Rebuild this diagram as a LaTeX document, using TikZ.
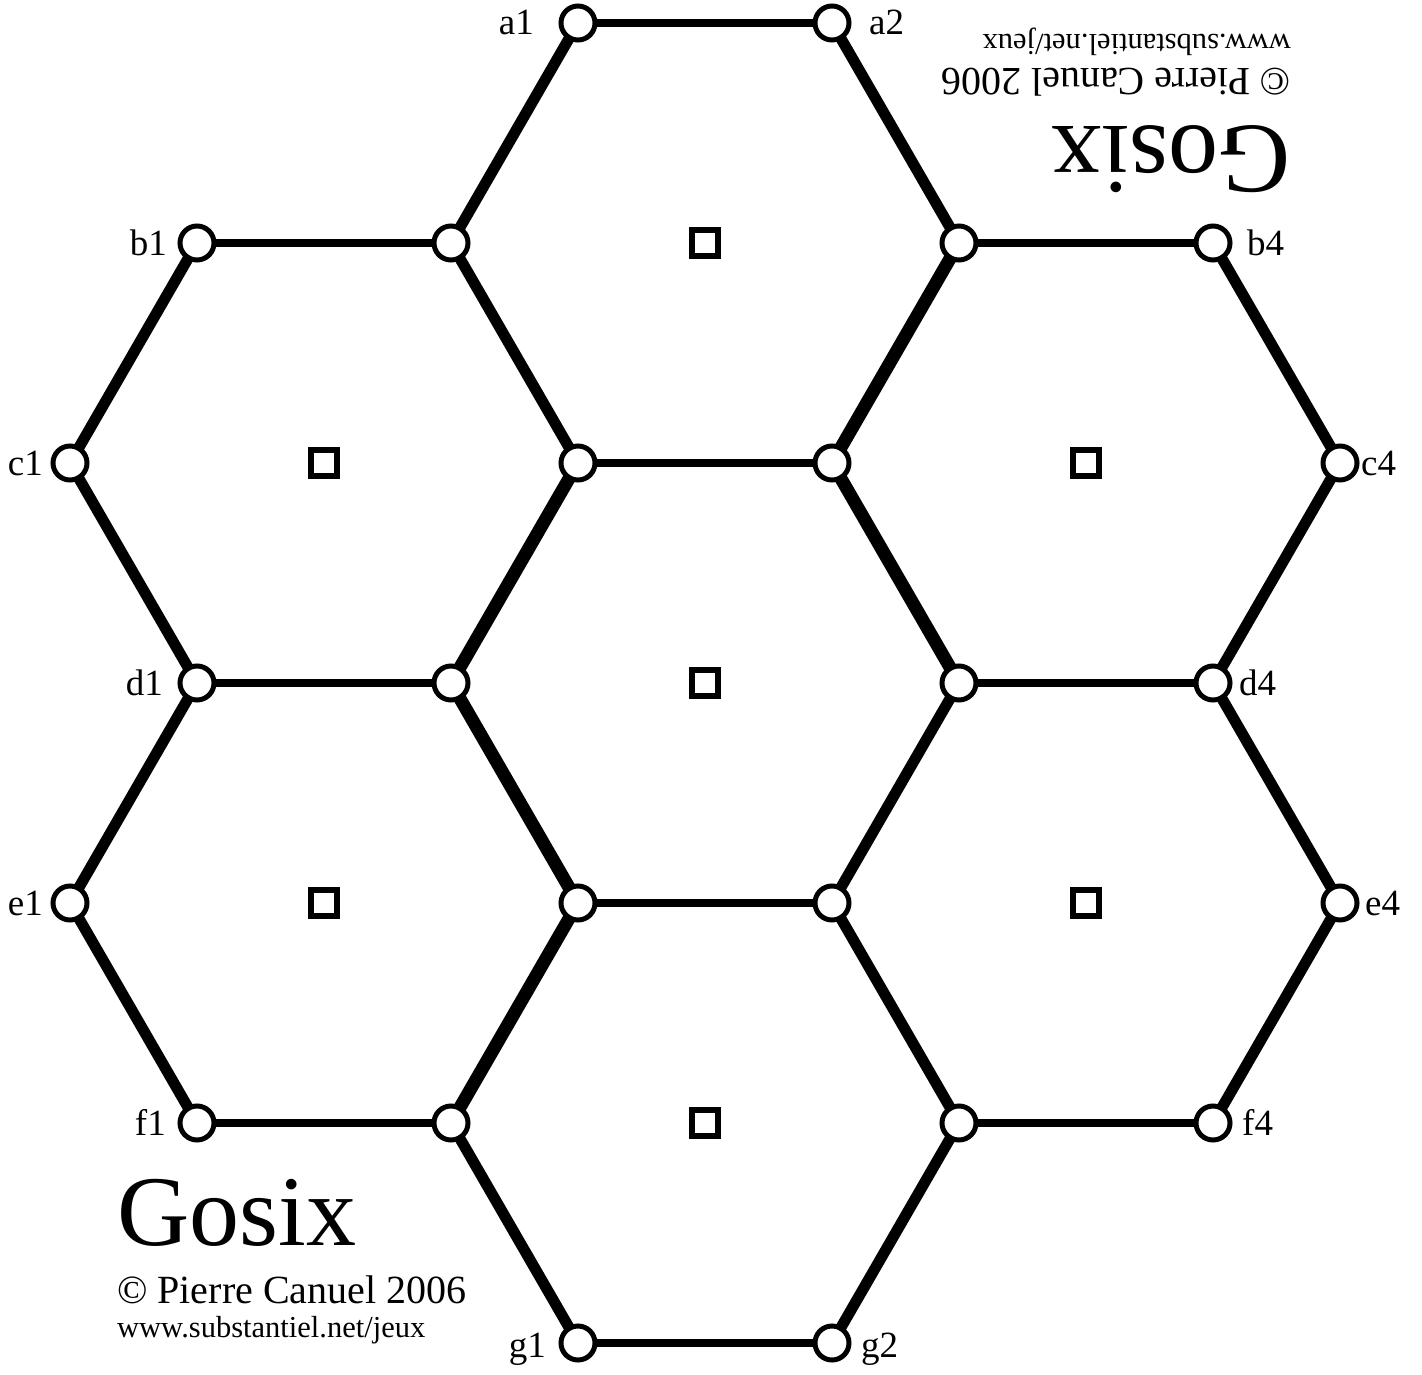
\documentclass[tikz,border=0pt]{standalone}
\usepackage{fontspec}
\setmainfont{Liberation Serif}
\usetikzlibrary{backgrounds}
\begin{document}
\begin{tikzpicture}[x=1pt,y=-1pt,
  vtx/.style={circle,draw,fill=white,line width=5pt,minimum size=34pt,inner sep=0pt},
  cell/.style={rectangle,draw,fill=white,line width=6pt,minimum size=26pt,inner sep=0pt},
  hedge/.style={line width=8pt},
  dedge/.style={line width=11pt},
  tedge/.style={line width=13pt},
  lab/.style={font=\fontsize{37}{42}\selectfont,inner sep=0pt},
  titletext/.style={font=\fontsize{100}{110}\selectfont,inner sep=0pt,anchor=base west},
  copytext/.style={font=\fontsize{40}{46}\selectfont,inner sep=0pt,anchor=base west},
  webtext/.style={font=\fontsize{30.5}{36}\selectfont,inner sep=0pt,anchor=base west}]
\useasboundingbox (0,0) rectangle (1422,1375);
% vertices
\node[vtx] (a1) at (578,23) {};
\node[vtx] (a2) at (832,23) {};
\node[vtx] (b1) at (197,243) {};
\node[vtx] (b2) at (451,243) {};
\node[vtx] (b3) at (959,243) {};
\node[vtx] (b4) at (1213,243) {};
\node[vtx] (c1) at (70,463) {};
\node[vtx] (c2) at (578,463) {};
\node[vtx] (c3) at (832,463) {};
\node[vtx] (c4) at (1340,463) {};
\node[vtx] (d1) at (197,683) {};
\node[vtx] (d2) at (451,683) {};
\node[vtx] (d3) at (959,683) {};
\node[vtx] (d4) at (1213,683) {};
\node[vtx] (e1) at (70,903) {};
\node[vtx] (e2) at (578,903) {};
\node[vtx] (e3) at (832,903) {};
\node[vtx] (e4) at (1340,903) {};
\node[vtx] (f1) at (197,1123) {};
\node[vtx] (f2) at (451,1123) {};
\node[vtx] (f3) at (959,1123) {};
\node[vtx] (f4) at (1213,1123) {};
\node[vtx] (g1) at (578,1343) {};
\node[vtx] (g2) at (832,1343) {};
% cell markers
\node[cell] (h1) at (705,243) {};
\node[cell] (h2) at (324,463) {};
\node[cell] (h3) at (1086,463) {};
\node[cell] (h4) at (705,683) {};
\node[cell] (h5) at (324,903) {};
\node[cell] (h6) at (1086,903) {};
\node[cell] (h7) at (705,1123) {};
% edges
\begin{scope}[on background layer]
\foreach \u/\v in {a1/a2,b1/b2,b3/b4,c2/c3,d1/d2,d3/d4,e2/e3,f1/f2,f3/f4,g1/g2}
  \draw[hedge] (\u.center) -- (\v.center);
\foreach \u/\v in {a1/b2,a2/b3,b1/c1,b2/c2,b4/c4,c1/d1,c4/d4,d1/e1,d3/e3,d4/e4,e1/f1,e3/f3,e4/f4,f2/g1,f3/g2}
  \draw[dedge] (\u.center) -- (\v.center);
\foreach \u/\v in {b3/c3,c2/d2,c3/d3,d2/e2,e2/f2}
  \draw[tedge] (\u.center) -- (\v.center);
\end{scope}
% labels
\node[lab,anchor=base east] (la1) at ([xshift=-44pt,yshift=-12pt]a1.center) {a1};
\node[lab,anchor=base west] (la2) at ([xshift=37pt,yshift=-12pt]a2.center) {a2};
\node[lab,anchor=base east] (lb1) at ([xshift=-30pt,yshift=-12pt]b1.center) {b1};
\node[lab,anchor=base west] (lb4) at ([xshift=34pt,yshift=-12pt]b4.center) {b4};
\node[lab,anchor=base east] (lc1) at ([xshift=-27pt,yshift=-12pt]c1.center) {c1};
\node[lab,anchor=base west] (lc4) at ([xshift=21pt,yshift=-12pt]c4.center) {c4};
\node[lab,anchor=base east] (ld1) at ([xshift=-34pt,yshift=-12pt]d1.center) {d1};
\node[lab,anchor=base west] (ld4) at ([xshift=26pt,yshift=-12pt]d4.center) {d4};
\node[lab,anchor=base east] (le1) at ([xshift=-27pt,yshift=-12pt]e1.center) {e1};
\node[lab,anchor=base west] (le4) at ([xshift=25pt,yshift=-12pt]e4.center) {e4};
\node[lab,anchor=base east] (lf1) at ([xshift=-31pt,yshift=-12pt]f1.center) {f1};
\node[lab,anchor=base west] (lf4) at ([xshift=29pt,yshift=-12pt]f4.center) {f4};
\node[lab,anchor=base east] (lg1) at ([xshift=-32pt,yshift=-14pt]g1.center) {g1};
\node[lab,anchor=base west] (lg2) at ([xshift=29pt,yshift=-14pt]g2.center) {g2};
% title blocks
\node[titletext] (t1) at (117,1245) {Gosix};
\node[copytext] (c1t) at (117,1303) {© Pierre Canuel 2006};
\node[webtext] (w1) at (117,1337) {www.substantiel.net/jeux};
\begin{scope}[rotate around={180:(704,686)}]
\node[titletext,transform shape] (t2) at (117,1245) {Gosix};
\node[copytext,transform shape] (c2t) at (117,1303) {© Pierre Canuel 2006};
\node[webtext,transform shape] (w2) at (117,1337) {www.substantiel.net/jeux};
\end{scope}
\end{tikzpicture}
\end{document}
